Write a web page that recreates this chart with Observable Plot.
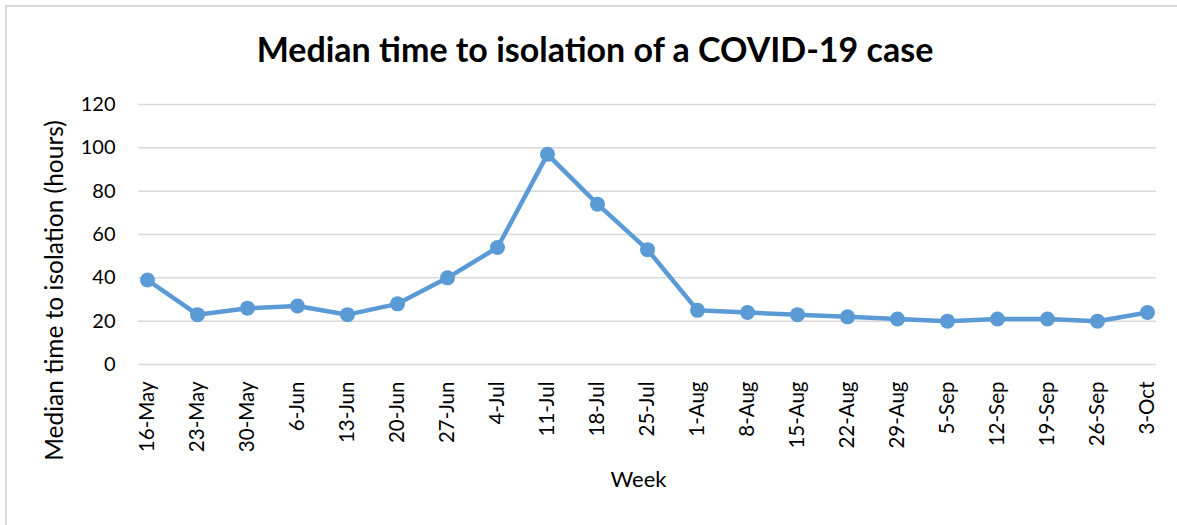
<!DOCTYPE html>
<html>
<head>
<meta charset="utf-8">
<script src="https://cdn.jsdelivr.net/npm/d3@7"></script>
<script src="https://cdn.jsdelivr.net/npm/@observablehq/plot@0.6"></script>
<style>
  html, body { margin: 0; padding: 0; background: #fff; }
  #wrap { position: relative; width: 1177px; height: 525px; overflow: hidden; font-family: Lato, "Open Sans", sans-serif; }
  #frame { position: absolute; left: 5px; top: 5px; width: 1200px; height: 600px; border-top: 2px solid #d9d9d9; border-left: 2px solid #d9d9d9; box-sizing: border-box; pointer-events: none; }
  #title { position: absolute; left: 0; width: 1190px; top: 32px; text-align: center; font-weight: bold; font-size: 34px; color: #000; line-height: 1; white-space: nowrap; }
  #chart { position: absolute; left: 0; top: 0; }
</style>
</head>
<body>
<div id="wrap">
  <div id="chart"></div>
  <div id="frame"></div>
  <div id="title">Median time to isolation of a COVID-19 case</div>
</div>
<script>
const weeks = ["16-May","23-May","30-May","6-Jun","13-Jun","20-Jun","27-Jun","4-Jul","11-Jul","18-Jul","25-Jul","1-Aug","8-Aug","15-Aug","22-Aug","29-Aug","5-Sep","12-Sep","19-Sep","26-Sep","3-Oct"];
const hours = [39,23,26,27,23,28,40,54,97,74,53,25,24,23,22,21,20,21,21,20,24];
const yTicks = [0,20,40,60,80,100,120];
const yTitle = "Median time to isolation (hours)";
const xTitle = "Week";

const data = weeks.map((w, i) => ({week: w, value: hours[i]}));

const chart = Plot.plot({
  width: 1177,
  height: 525,
  marginLeft: 138,
  marginRight: 21,
  marginTop: 104,
  marginBottom: 161,
  style: {fontFamily: "Lato, 'Open Sans', sans-serif", background: "transparent", overflow: "visible"},
  x: {type: "point", domain: weeks, inset: 4, padding: 0},
  y: {domain: [0, 120]},
  marks: [
    Plot.gridY(yTicks, {stroke: "#d9d9d9", strokeOpacity: 1, strokeWidth: 1.5}),
    Plot.axisY(yTicks, {tickSize: 0, tickPadding: 23, fontSize: 20, fill: "#000", label: null}),
    Plot.axisX({tickSize: 0, tickRotate: -90, tickPadding: 17, fontSize: 20.5, fill: "#000", label: null}),
    Plot.line(data, {x: "week", y: "value", stroke: "#5b9bd5", strokeWidth: 4.5, strokeLinejoin: "round"}),
    Plot.dot(data, {x: "week", y: "value", r: 7.5, fill: "#5b9bd5", stroke: "none"}),
    Plot.text([yTitle], {frameAnchor: "left", text: d => d, textAnchor: "middle", rotate: -90, dx: -83, dy: 56, fontSize: 24.5, fill: "#000"}),
    Plot.text([xTitle], {frameAnchor: "bottom", text: d => d, textAnchor: "middle", dx: -9, dy: 122, fontSize: 22, fill: "#000"})
  ]
});
document.getElementById("chart").appendChild(chart);
</script>
</body>
</html>
